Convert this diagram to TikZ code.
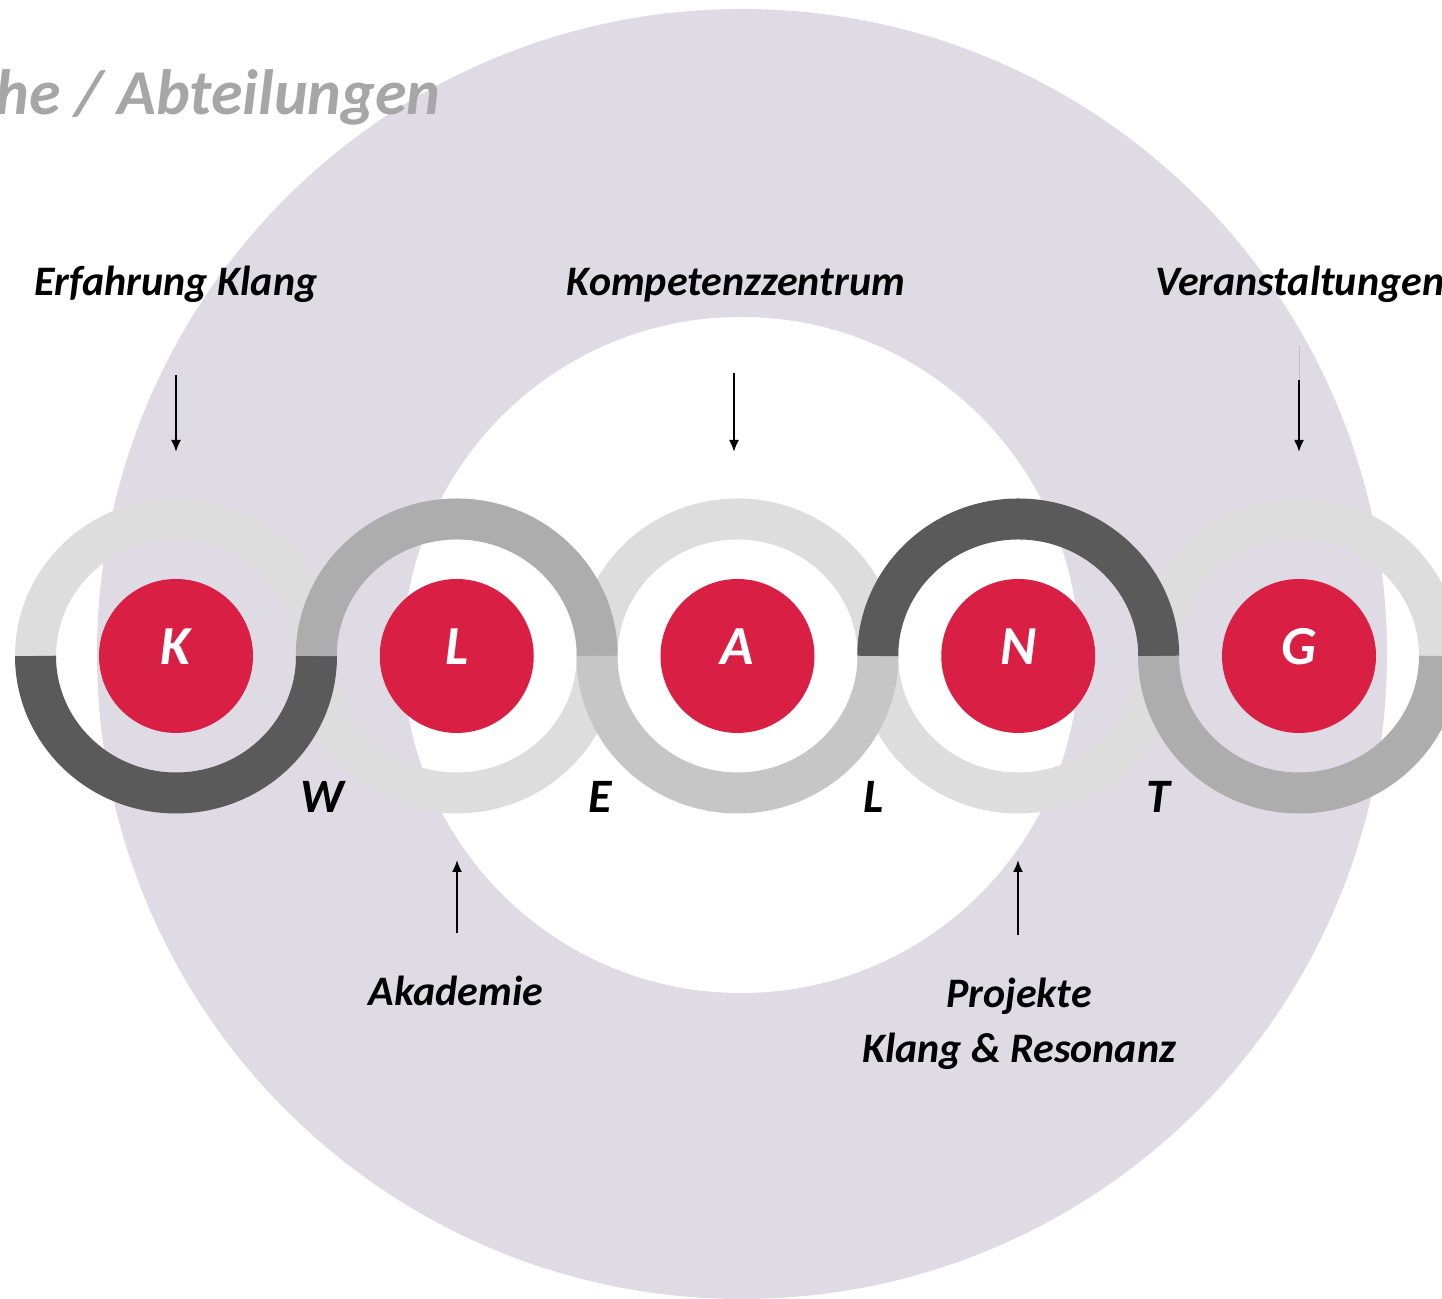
\documentclass[tikz,border=0pt]{standalone}
\usepackage{fontspec}
\setmainfont{Carlito}
\usetikzlibrary{arrows.meta}

\definecolor{bgviolet}{HTML}{DEDBE5}
\definecolor{ringlight}{HTML}{DDDDDD}
\definecolor{ringdark}{HTML}{595A59}
\definecolor{ringmid}{HTML}{ADADAD}
\definecolor{ringpale}{HTML}{C6C6C6}
\definecolor{klangred}{HTML}{D92044}
\definecolor{titlegray}{HTML}{A6A6A6}

\begin{document}
\begin{tikzpicture}[x=0.5pt,y=0.5pt,
		lbl/.style={font=\fontsize{21}{25}\selectfont\bfseries\itshape},
		welt/.style={font=\fontsize{24}{28}\selectfont\bfseries\itshape,anchor=base,inner sep=0},
		dot/.style={circle,fill=klangred,minimum size=77pt,inner sep=0,text=white,
			font=\fontsize{27.5}{30}\selectfont\bfseries\itshape,text height=17.5pt,text depth=8.5pt},
		halfring/.style={line width=20.5pt},
		arr/.style={line width=1pt,-{Latex[length=6pt,width=5pt]}}]
	\clip (0,0) rectangle (1442,1299);
	\fill[bgviolet] (742,645) circle[radius=645];
	\fill[white] (741,644) circle[radius=338];
	\node[anchor=base east,inner sep=0,text=titlegray,font=\fontsize{32}{36}\selectfont\bfseries\itshape] (title) at (441,1184) {he / Abteilungen};
	% ring centres
	\foreach\i in {0,...,4} {
		\coordinate (c\i) at ({176+280.75*\i},643);
	}
	% back half rings
	\foreach\i/\a in {0/0,1/180,2/0,3/180,4/0} {
		\draw[halfring,ringlight] (c\i) ++(\a:140.5 and 137) arc[start angle=\a,delta angle=180,x radius=140.5,y radius=137];
	}
	% front half rings
	\foreach\i/\a/\col in {0/180/ringdark,1/0/ringmid,2/180/ringpale,3/0/ringdark,4/180/ringmid} {
		\draw[halfring,\col] (c\i) ++(\a:140.5 and 137) arc[start angle=\a,delta angle=180,x radius=140.5,y radius=137];
	}
	\foreach\i/\l in {0/K,1/L,2/A,3/N,4/G} {
		\node[dot] (d\i) at (c\i) {\l};
	}
	\node[welt] (w) at (322,486) {W};
	\node[welt] (e) at (600,486) {E};
	\node[welt] (l) at (874,486) {L};
	\node[welt] (t) at (1158,486) {T};
	% labels
	\node[lbl,anchor=base] (erf) at (176,1003) {Erfahrung Klang};
	\node[lbl,anchor=base] (komp) at (736,1003) {Kompetenzzentrum};
	\node[lbl,anchor=base west,inner sep=0] (vera) at (1155,1003) {Veranstaltungen};
	\node[lbl,anchor=base] (akad) at (456,293) {Akademie};
	\node[lbl,anchor=base] (proj) at (1019,291) {Projekte};
	\node[lbl,anchor=base] (reso) at (1019,236) {Klang \& Resonanz};
	% arrows
	\coordinate (erfA) at (176,924);
	\coordinate (erfB) at (176,847);
	\coordinate (kompA) at (734,926);
	\coordinate (kompB) at (734,847);
	\coordinate (veraS) at (1299,953);
	\coordinate (veraA) at (1299,919);
	\coordinate (veraB) at (1299,847);
	\coordinate (akadA) at (457,366);
	\coordinate (akadB) at (457,439);
	\coordinate (projA) at (1018,364);
	\coordinate (projB) at (1018,439);
	\draw[arr] (erfA) -- (erfB);
	\draw[arr] (kompA) -- (kompB);
	\draw[black!25,line width=0.5pt] (veraS) -- (veraA);
	\draw[arr] (veraA) -- (veraB);
	\draw[arr] (akadA) -- (akadB);
	\draw[arr] (projA) -- (projB);
\end{tikzpicture}
\end{document}
